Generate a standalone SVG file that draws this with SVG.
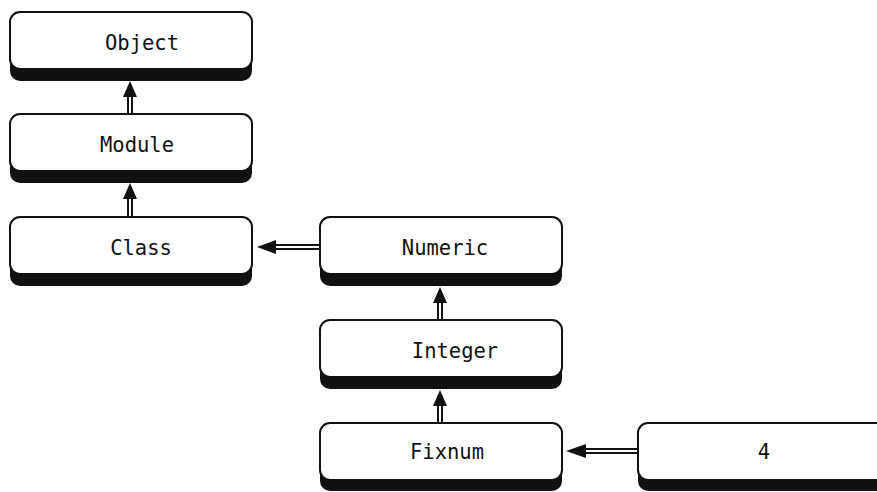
<svg xmlns="http://www.w3.org/2000/svg" width="877" height="492" viewBox="0 0 877 492">
<defs>
<style>
.sh{fill:#111}
.bd{fill:#fff;stroke:#111;stroke-width:2}
.t{font-family:"DejaVu Sans Mono","Liberation Mono",monospace;font-size:20.5px;fill:#111;text-anchor:middle}
.so{stroke:#111;stroke-width:6;fill:none}
.si{stroke:#fff;stroke-width:2;fill:none}
.ah{fill:#111}
</style>
</defs>
<rect width="877" height="492" fill="#fff"/>
<g id="connectors">
<g><line class="so" x1="130" y1="96" x2="130" y2="115"/><line class="si" x1="130" y1="95" x2="130" y2="116"/><polygon class="ah" points="130,81 123,97 137,97"/></g>
<g><line class="so" x1="130" y1="198" x2="130" y2="218"/><line class="si" x1="130" y1="197" x2="130" y2="219"/><polygon class="ah" points="130,183 123,199 137,199"/></g>
<g><line class="so" x1="440" y1="302" x2="440" y2="321"/><line class="si" x1="440" y1="301" x2="440" y2="322"/><polygon class="ah" points="440,287 433,303 447,303"/></g>
<g><line class="so" x1="440" y1="405" x2="440" y2="424"/><line class="si" x1="440" y1="404" x2="440" y2="425"/><polygon class="ah" points="440,390 433,406 447,406"/></g>
<g><line class="so" x1="275" y1="247" x2="321" y2="247"/><line class="si" x1="274" y1="247" x2="322" y2="247"/><polygon class="ah" points="257,247 276,240 276,254"/></g>
<g><line class="so" x1="585" y1="451" x2="640" y2="451"/><line class="si" x1="584" y1="451" x2="641" y2="451"/><polygon class="ah" points="566,451 586,444 586,458"/></g>
</g>
<g id="Object"><rect class="sh" x="10" y="24" width="242" height="57" rx="10"/><rect class="bd" x="10" y="12" width="242" height="57" rx="10"/><text class="t" x="142" y="50">Object</text></g>
<g id="Module"><rect class="sh" x="10" y="126" width="242" height="57" rx="10"/><rect class="bd" x="10" y="114" width="242" height="57" rx="10"/><text class="t" x="137" y="152">Module</text></g>
<g id="Class"><rect class="sh" x="10" y="229" width="242" height="57" rx="10"/><rect class="bd" x="10" y="217" width="242" height="57" rx="10"/><text class="t" x="141" y="255">Class</text></g>
<g id="Numeric"><rect class="sh" x="320" y="229" width="242" height="57" rx="10"/><rect class="bd" x="320" y="217" width="242" height="57" rx="10"/><text class="t" x="445" y="255">Numeric</text></g>
<g id="Integer"><rect class="sh" x="320" y="332" width="242" height="57" rx="10"/><rect class="bd" x="320" y="320" width="242" height="57" rx="10"/><text class="t" x="455" y="358">Integer</text></g>
<g id="Fixnum"><rect class="sh" x="320" y="435" width="242" height="56" rx="10"/><rect class="bd" x="320" y="423" width="242" height="57" rx="10"/><text class="t" x="447" y="459">Fixnum</text></g>
<g id="n4"><rect class="sh" x="638" y="435" width="250" height="56" rx="10"/><rect class="bd" x="638" y="423" width="250" height="57" rx="10"/><text class="t" x="764" y="459">4</text></g>
</svg>
